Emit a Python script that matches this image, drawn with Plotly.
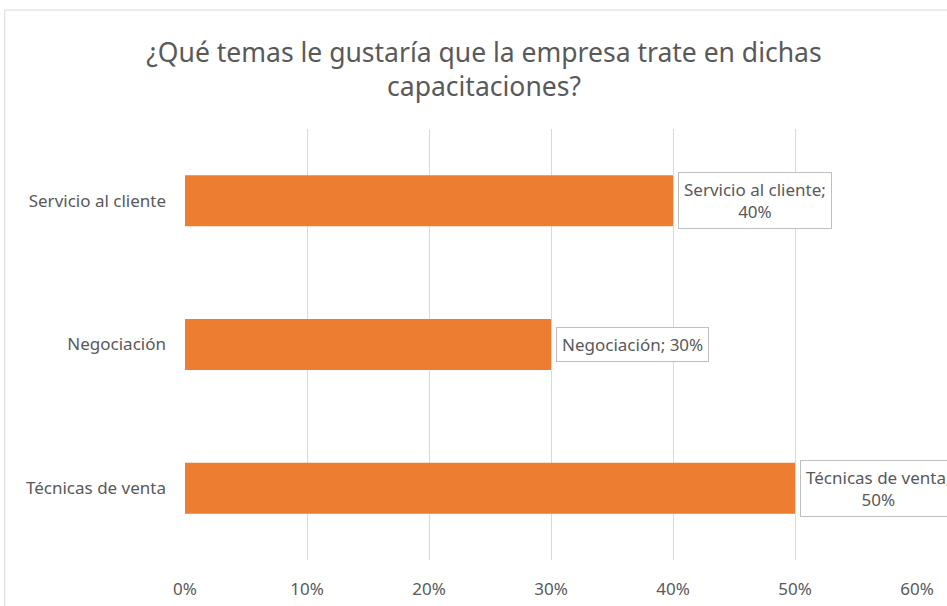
import plotly.graph_objects as go

categories = ["Servicio al cliente", "Negociación", "Técnicas de venta"]
values = [0.40, 0.30, 0.50]
label_wrap = [True, False, True]
tick_vals = [0, 0.1, 0.2, 0.3, 0.4, 0.5, 0.6]
tick_text = ["0%", "10%", "20%", "30%", "40%", "50%", "60%"]
title = "¿Qué temas le gustaría que la empresa trate en dichas<br>capacitaciones?"

FONT = "Noto Sans"
GREY = "#595959"

fig = go.Figure()
fig.add_trace(go.Bar(
    y=categories, x=values, orientation="h",
    marker=dict(color="#ED7D31", line=dict(width=0)),
    hoverinfo="skip",
))

for cat, v, wrap in zip(categories, values, label_wrap):
    sep = "<br>" if wrap else " "
    fig.add_annotation(
        x=v, y=cat, xref="x", yref="y",
        text=f"{cat};{sep}{round(v*100)}%",
        showarrow=False, xanchor="left", yanchor="middle",
        xshift=5, align="center",
        font=dict(family=FONT, size=17, color=GREY),
        bgcolor="white", bordercolor="#BFBFBF", borderwidth=1, borderpad=5,
    )

# chart outer border (partially cropped in reference)
fig.add_shape(type="rect", xref="paper", yref="paper",
              x0=(5 - 185) / 731, x1=1.2, y0=-0.2, y1=(560 - 10) / 431,
              line=dict(color="#D9D9D9", width=1), fillcolor="rgba(0,0,0,0)",
              layer="below")

fig.update_layout(
    width=947, height=606,
    margin=dict(l=185, r=30, t=129, b=46, autoexpand=False),
    paper_bgcolor="white", plot_bgcolor="white",
    showlegend=False,
    bargap=0.645,
    title=dict(text=title, x=(484) / 947, xanchor="center", y=1 - 62 / 606, yanchor="middle",
               font=dict(family=FONT, size=26.5, color=GREY)),
    font=dict(family=FONT, color=GREY),
    xaxis=dict(range=[0, 0.6], tickvals=tick_vals, ticktext=tick_text,
               showgrid=True, gridcolor="#D9D9D9", gridwidth=1,
               zeroline=False, showline=False, ticks="", automargin=False,
               ticklabelstandoff=17,
               tickfont=dict(family=FONT, size=17, color=GREY)),
    yaxis=dict(range=[2.5, -0.5], showgrid=False, zeroline=False,
               showline=False, ticks="", ticklabelstandoff=18, automargin=False,
               tickfont=dict(family=FONT, size=17, color=GREY)),
)

fig.write_html("out.html")
